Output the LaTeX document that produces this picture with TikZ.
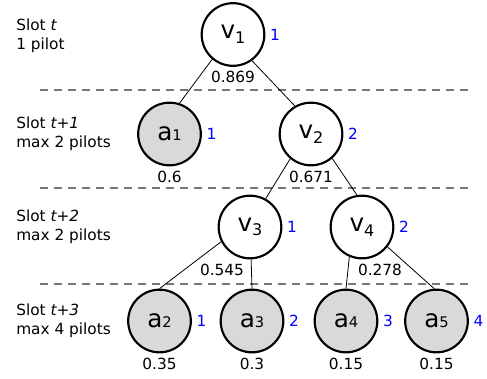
\documentclass[tikz,border=0pt]{standalone}
\usepackage{xcolor}
\usepackage{fontspec}
\setmainfont{DejaVu Sans}
\usepackage{tikz}
\usetikzlibrary{shapes, arrows.meta, positioning}

\definecolor{leafgray}{RGB}{217,217,217}
\definecolor{sepgray}{RGB}{120,120,120}

% node texts: big letter, smaller index
\newcommand{\vname}[1]{v\raisebox{-3.5pt}{\fontsize{12}{12}\selectfont #1}}
\newcommand{\aname}[1]{a{\fontsize{11}{11}\selectfont #1}}

\tikzset{
    vnode/.style={draw, circle, line width=1.6pt, minimum size=47pt, inner sep=0pt, fill=white, font=\fontsize{18.5}{18.5}\selectfont},
    anode/.style={vnode, fill=leafgray},
    wlabel/.style={font=\fontsize{11.5}{13}\selectfont, text=black},
    pilotnum/.style={font=\fontsize{11.5}{13}\selectfont, text=blue},
    slotlabel/.style={anchor=west, align=left, inner sep=0pt, font=\fontsize{11.5}{14.2}\selectfont},
    edge/.style={line width=0.6pt},
    slotsep/.style={sepgray, line width=0.9pt, dash pattern=on 6pt off 4.5pt}
}

\begin{document}
\begin{tikzpicture}[x=0.75pt, y=-0.75pt]
    \useasboundingbox (0,0) rectangle (487,379);

    % slot separators
    \draw[slotsep] (40,90) -- (468,90);
    \draw[slotsep] (40,188) -- (468,188);
    \draw[slotsep] (40,284) -- (468,284);

    % slot labels
    \node[slotlabel] (s0) at (16,36) {Slot \textit{t}\\1 pilot};
    \node[slotlabel] (s1) at (16,134) {Slot \textit{t+1}\\max 2 pilots};
    \node[slotlabel] (s2) at (16,227) {Slot \textit{t+2}\\max 2 pilots};
    \node[slotlabel] (s3) at (16,321) {Slot \textit{t+3}\\max 4 pilots};

    % tree
    \node[vnode, label={[wlabel]below:0.869}, label={[pilotnum]right:1}] (v1) at (233,34.5) {\vname{1}};
    \node[anode, label={[wlabel]below:0.6}, label={[pilotnum]right:1}] (a1) at (169.5,134) {\aname{1}};
    \node[vnode, label={[wlabel]below:0.671}, label={[pilotnum]right:2}] (v2) at (311,134) {\vname{2}};
    \node[vnode, label={[wlabel, xshift=-21pt]below:0.545}, label={[pilotnum]right:1}] (v3) at (250,227) {\vname{3}};
    \node[vnode, label={[wlabel, xshift=13.5pt]below:0.278}, label={[pilotnum]right:2}] (v4) at (362,227) {\vname{4}};
    \node[anode, label={[wlabel]below:0.35}, label={[pilotnum]right:1}] (a2) at (159.5,321) {\aname{2}};
    \node[anode, label={[wlabel]below:0.3}, label={[pilotnum]right:2}] (a3) at (252,321) {\aname{3}};
    \node[anode, label={[wlabel]below:0.15}, label={[pilotnum]right:3}] (a4) at (346,321) {\aname{4}};
    \node[anode, label={[wlabel]below:0.15}, label={[pilotnum]right:4}] (a5) at (436.5,321) {\aname{5}};

    \draw[edge] (v1.230) -- (a1.72);
    \draw[edge] (v1.306) -- (v2.120);
    \draw[edge] (v2.230) -- (v3.61);
    \draw[edge] (v2.311) -- (v4.99);
    \draw[edge] (v3.207) -- (a2.north);
    \draw[edge] (v3.272) -- (a3.north);
    \draw[edge] (v4.247) -- (a4.north);
    \draw[edge] (v4.322) -- (a5.94);
\end{tikzpicture}
\end{document}
